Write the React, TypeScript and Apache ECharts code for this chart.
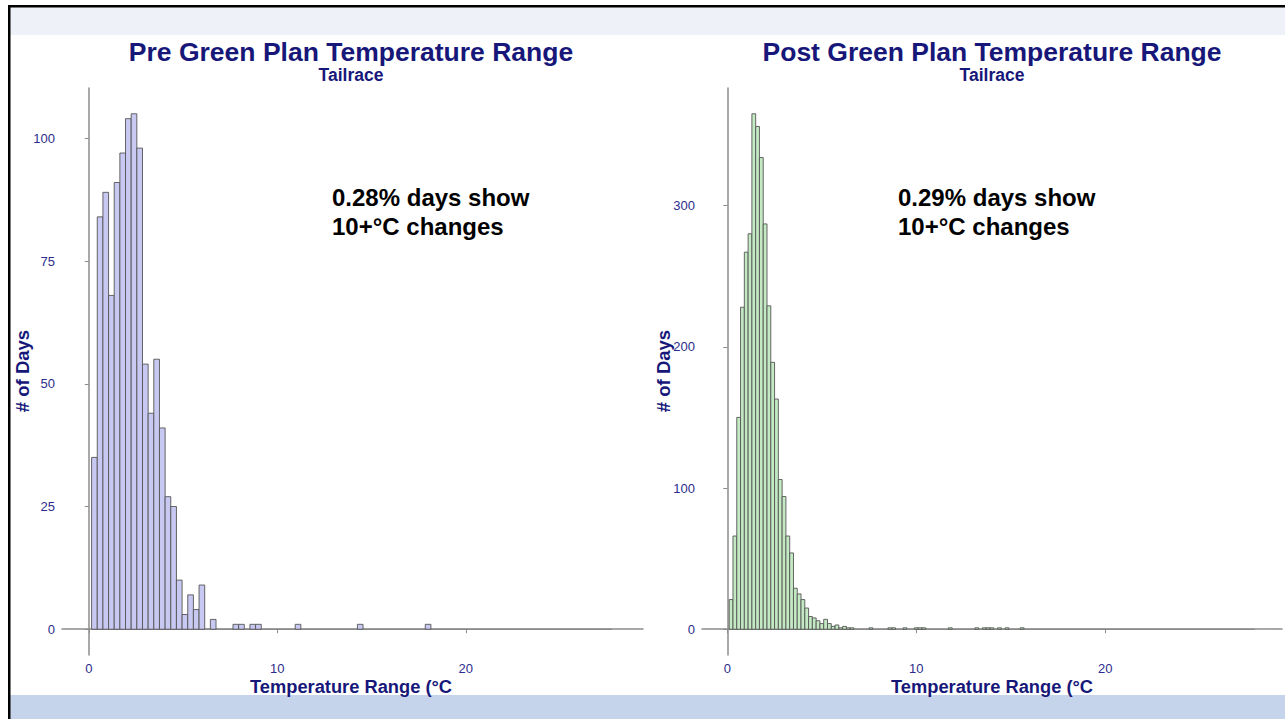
import React, { useEffect, useRef } from 'react';
import * as echarts from 'echarts';

// ---- data ----
const preCounts = [
  35, 84, 89, 68, 91, 97, 104, 105, 98, 54, 44, 55, 41, 27, 25, 10, 3, 7, 4, 9,
  0, 2, 0, 0, 0, 1, 1, 0, 1, 1, 0, 0, 0, 0, 0, 0, 1, 0, 0, 0,
  0, 0, 0, 0, 0, 0, 0, 1, 0, 0, 0, 0, 0, 0, 0, 0, 0, 0, 0, 1,
];
const postCounts = [
  21, 66, 150, 228, 267, 280, 365, 356, 334, 287, 229, 189, 163, 106, 94, 66, 54, 29, 25, 21,
  15, 9, 8, 6, 4, 7, 4, 2, 3, 1, 2, 1, 1, 0, 0, 0, 0, 1, 0, 0,
  0, 0, 1, 1, 0, 0, 1, 0, 0, 1, 1, 1, 0, 0, 0, 0, 0, 0, 1, 0,
  0, 0, 0, 0, 0, 1, 0, 1, 1, 1, 0, 1, 0, 1, 0, 0, 0, 1,
];
const PRE_BIN_START = 0.15;
const PRE_BIN_WIDTH = 0.3;
const PRE_BIN_TOTAL = 92;
const POST_BIN_START = 0.1;
const POST_BIN_WIDTH = 0.2;
const POST_BIN_TOTAL = 139;

const preYTicks = [0, 25, 50, 75, 100];
const postYTicks = [0, 100, 200, 300];
const xTicks = [0, 10, 20];

const titles = ['Pre Green Plan Temperature Range', 'Post Green Plan Temperature Range'];
const subtitle = 'Tailrace';
const notes = ['0.28% days show\n10+°C changes', '0.29% days show\n10+°C changes'];
const xName = 'Temperature Range (°C';
const yName = '# of Days';

const FONT = '"Liberation Sans", Arial, sans-serif';
const NAVY = '#17177a';
const TICK = '#2c2c8c';
const AXIS = '#8c8c8c';

function toBins(counts: number[], start: number, width: number) {
  return counts
    .map((c, i) => [start + i * width, start + (i + 1) * width, c])
    .filter((d) => d[2] > 0);
}

function makeRender(fill: string) {
  return (params: any, api: any) => {
    const a = api.coord([api.value(0), api.value(2)]);
    const b = api.coord([api.value(1), 0]);
    return {
      type: 'rect',
      shape: { x: a[0], y: a[1], width: b[0] - a[0], height: b[1] - a[1] },
      style: { fill, stroke: '#555555', lineWidth: 0.9 },
    };
  };
}

function xAxisCfg(gridIndex: number, min: number, max: number) {
  return {
    type: 'value',
    gridIndex,
    min,
    max,
    axisLine: { show: true, lineStyle: { color: AXIS, width: 1.5 } },
    axisTick: { show: true, customValues: xTicks, length: 4, lineStyle: { color: AXIS } },
    axisLabel: { customValues: xTicks, margin: 7, color: TICK, fontSize: 13, fontFamily: FONT },
    splitLine: { show: false },
  };
}
function yAxisCfg(gridIndex: number, min: number, max: number, ticks: number[]) {
  return {
    type: 'value',
    gridIndex,
    min,
    max,
    axisLine: { show: true, lineStyle: { color: AXIS, width: 1.5 } },
    axisTick: { show: true, customValues: ticks, length: 4, lineStyle: { color: AXIS } },
    axisLabel: { customValues: ticks, margin: 7, color: TICK, fontSize: 13, fontFamily: FONT },
    splitLine: { show: false },
  };
}

function textEl(text: string, x: number, y: number, font: string, fill: string, align = 'center', extra: any = {}) {
  const { styleExtra, ...rest } = extra;
  return {
    type: 'text',
    x,
    y,
    z: 10,
    ...rest,
    style: { text, font, fill, align, verticalAlign: 'middle', ...(styleExtra || {}) },
  };
}

export default function App() {
  const ref = useRef<HTMLDivElement>(null);
  useEffect(() => {
    if (!ref.current) return;
    const chart = echarts.init(ref.current, null, { renderer: 'svg' });
    const centers = [351, 992];
    const noteX = [332, 898];
    const yNameX = [22, 663];
    const graphic: any[] = [
      { type: 'rect', z: 0, shape: { x: 10, y: 7, width: 1275, height: 28 }, style: { fill: '#eef1f8' } },
      { type: 'rect', z: 0, shape: { x: 10, y: 695, width: 1275, height: 24 }, style: { fill: '#c5d4eb' } },
      { type: 'rect', z: 1, shape: { x: 8, y: 5, width: 1277, height: 2.5 }, style: { fill: '#000000' } },
      { type: 'rect', z: 1, shape: { x: 8, y: 5, width: 2.5, height: 714 }, style: { fill: '#000000' } },
    ];
    for (let i = 0; i < 2; i++) {
      graphic.push(textEl(titles[i], centers[i], 52, `bold 26.5px ${FONT}`, NAVY));
      graphic.push(textEl(subtitle, centers[i], 75, `bold 17.5px ${FONT}`, NAVY));
      graphic.push(textEl(notes[i], noteX[i], 211.5, `bold 24px ${FONT}`, '#000000', 'left', { styleExtra: { lineHeight: 29 } }));
      graphic.push(textEl(xName, centers[i], 686, `bold 18.3px ${FONT}`, NAVY));
      graphic.push(textEl(yName, yNameX[i], 371, `bold 18.5px ${FONT}`, NAVY, 'center', { rotation: Math.PI / 2 }));
    }
    chart.setOption({
      animation: false,
      backgroundColor: '#ffffff',
      grid: [
        { left: 62, top: 88, width: 581, height: 567 },
        { left: 702, top: 88, width: 580, height: 567 },
      ],
      xAxis: [xAxisCfg(0, -1.42, 29.4), xAxisCfg(1, -1.34, 29.35)],
      yAxis: [yAxisCfg(0, -5.25, 110.25, preYTicks), yAxisCfg(1, -18.25, 383.25, postYTicks)],
      graphic,
      series: [
        {
          type: 'line',
          xAxisIndex: 0,
          yAxisIndex: 0,
          symbol: 'none',
          z: 1,
          lineStyle: { color: '#808080', width: 1.2 },
          data: [[PRE_BIN_START, 0], [PRE_BIN_START + PRE_BIN_TOTAL * PRE_BIN_WIDTH, 0]],
        },
        {
          type: 'line',
          xAxisIndex: 1,
          yAxisIndex: 1,
          symbol: 'none',
          z: 1,
          lineStyle: { color: '#808080', width: 1.2 },
          data: [[POST_BIN_START, 0], [POST_BIN_START + POST_BIN_TOTAL * POST_BIN_WIDTH, 0]],
        },
        {
          type: 'custom',
          xAxisIndex: 0,
          yAxisIndex: 0,
          z: 3,
          renderItem: makeRender('#c8c9f3'),
          encode: { x: [0, 1], y: 2 },
          data: toBins(preCounts, PRE_BIN_START, PRE_BIN_WIDTH),
        },
        {
          type: 'custom',
          xAxisIndex: 1,
          yAxisIndex: 1,
          z: 3,
          renderItem: makeRender('#c4eac4'),
          encode: { x: [0, 1], y: 2 },
          data: toBins(postCounts, POST_BIN_START, POST_BIN_WIDTH),
        },
      ],
    });
    return () => chart.dispose();
  }, []);
  return (
    <div
      ref={ref}
      style={{ position: 'fixed', left: 0, top: 0, width: 1285, height: 719, background: '#ffffff' }}
    />
  );
}
